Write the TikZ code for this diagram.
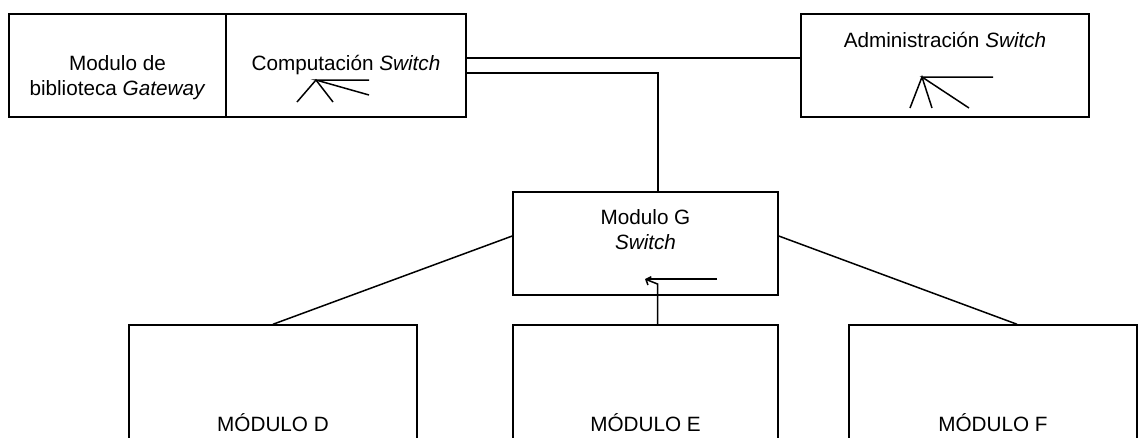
\documentclass[tikz,border=0pt]{standalone}
\usepackage{fontspec}
\setmainfont{Liberation Sans}
\usetikzlibrary{positioning, arrows.meta}

\begin{document}
\begin{tikzpicture}[x=1pt, y=-1pt, line width=1.5pt,
        modbox/.style={draw, inner sep=0pt},
        lbl/.style={inner sep=0pt, align=center, font=\fontsize{20.7}{25}\selectfont}]
        \useasboundingbox (0,0) rectangle (1138,437);
        \clip (0,0) rectangle (1138,437);
        % upper row
        \node[modbox, minimum width=217pt, minimum height=103pt] (gw) at (117.5,65.5) {};
        \node[modbox, minimum width=240pt, minimum height=103pt] (comp) at (346,65.5) {};
        \node[modbox, minimum width=288pt, minimum height=103pt] (admin) at (945,65.5) {};
        \node[modbox, minimum width=265pt, minimum height=103pt] (modg) at (645.5,243.5) {};
        % lower row
        \node[modbox, minimum width=288pt, minimum height=150pt] (modd) at (273,400) {};
        \node[modbox, minimum width=265pt, minimum height=150pt] (mode) at (645.5,400) {};
        \node[modbox, minimum width=288pt, minimum height=150pt] (modf) at (993,400) {};
        % texts
        \node[lbl] (gwtxt) at (117.5,78) {Modulo de\\biblioteca \textit{Gateway}};
        \node[lbl] (comptxt) at (346,65) {Computación \textit{Switch}};
        \node[lbl] (admtxt) at (945,40) {Administración \textit{Switch}};
        \node[lbl] (gtxt) at (645.5,230) {Modulo G\\\textit{Switch}};
        \node[lbl] (dtxt) at (273,423) {MÓDULO D};
        \node[lbl] (etxt) at (645.5,423) {MÓDULO E};
        \node[lbl] (ftxt) at (993,423) {MÓDULO F};
        % links
        \draw ([yshift=7.5pt]comp.east) -- ([yshift=7.5pt]admin.west);
        \draw ([yshift=-7.5pt]comp.east) -| ([xshift=12.5pt]modg.north);
        \draw ([yshift=7.5pt]modg.west) -- (modd.north);
        \draw ([yshift=7.5pt]modg.east) -- ([xshift=24pt]modf.north);
        \draw[-{Straight Barb[length=4pt, width=9pt]}] ([xshift=12pt]mode.north) -- (657.5,284) -- (645,279);
        \draw (717,279) -- (647,279);
        % switch symbols
        \draw (369,80) -- (316,80) -- (369,95);
        \draw (297,102) -- (316,80) -- (333,102);
        \draw (993,77) -- (922,77) -- (969,108);
        \draw (910,108) -- (922,77) -- (932,108);
\end{tikzpicture}
\end{document}
